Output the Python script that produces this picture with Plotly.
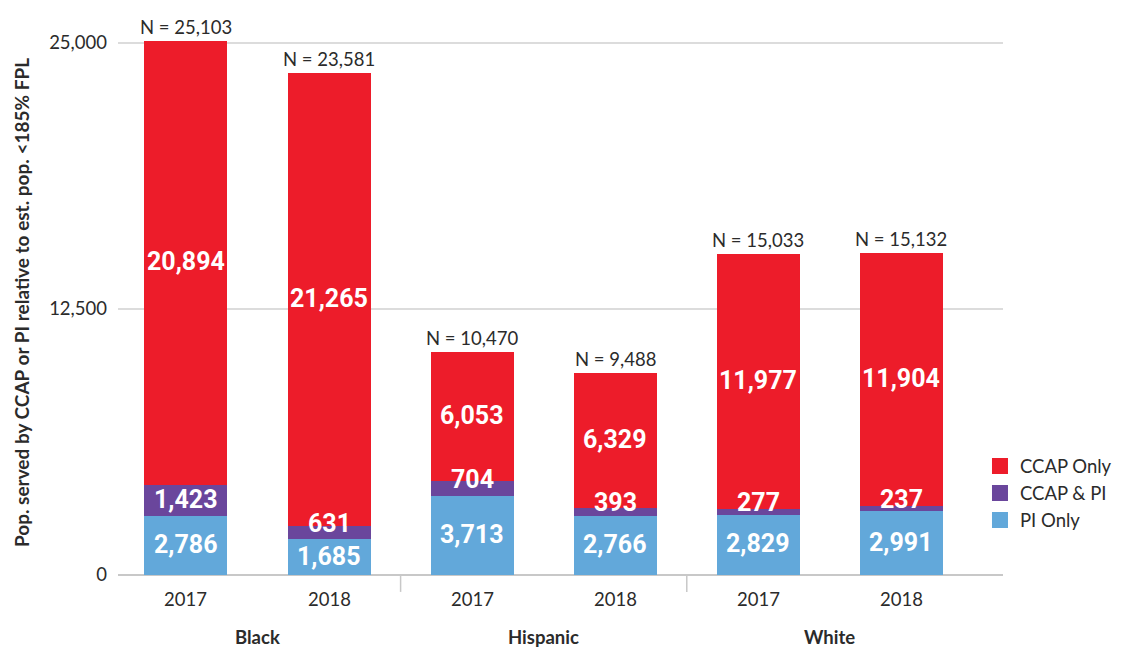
import plotly.graph_objects as go

groups = ["Black", "Hispanic", "White"]
years = ["2017", "2018", "2017", "2018", "2017", "2018"]
pi_only = [2786, 1685, 3713, 2766, 2829, 2991]
ccap_pi = [1423, 631, 704, 393, 277, 237]
ccap_only = [20894, 21265, 6053, 6329, 11977, 11904]
n_labels = ["N = 25,103", "N = 23,581", "N = 10,470", "N = 9,488", "N = 15,033", "N = 15,132"]
y_ticks = [0, 12500, 25000]
y_tick_text = ["0", "12,500", "25,000"]

x = list(range(len(years)))
totals = [a + b + c for a, b, c in zip(pi_only, ccap_pi, ccap_only)]

BODY = "Lato, 'Open Sans', sans-serif"
COND = "Roboto, sans-serif"
TXT = "#2b2b2b"
YMAX = 25600
PLOT_H = 545

fig = go.Figure()
series = [
    ("PI Only", pi_only, "#62A8DA"),
    ("CCAP & PI", ccap_pi, "#6A469C"),
    ("CCAP Only", ccap_only, "#ED1C2A"),
]
base = [0] * len(x)
for name, vals, col in series:
    fig.add_trace(go.Bar(
        x=x, y=vals, name=name, marker=dict(color=col, line=dict(width=0)),
        width=0.58, showlegend=False, hoverinfo="y+name",
    ))
    for xi, b, v in zip(x, base, vals):
        px_h = v / YMAX * PLOT_H
        fig.add_annotation(x=xi, y=b + v / 2, text=f"{v:,}", showarrow=False,
                           yshift=9 if px_h < 20 else 1,
                           font=dict(family=COND, size=25, color="white", weight="bold"))
    base = [b + v for b, v in zip(base, vals)]

# legend entries (top to bottom)
for name, vals, col in reversed(series):
    fig.add_trace(go.Scatter(x=[None], y=[None], mode="markers", name=name,
                             marker=dict(symbol="square", size=16, color=col)))

for xi, t, lab in zip(x, totals, n_labels):
    fig.add_annotation(x=xi, y=t, text=lab, showarrow=False, yanchor="bottom",
                       yshift=1, font=dict(family=BODY, size=18.5, color=TXT))

for xi, yr in zip(x, years):
    fig.add_annotation(x=xi, y=0, yref="y", text=yr, showarrow=False, yanchor="top",
                       yshift=-11, font=dict(family=BODY, size=18.5, color=TXT))
for gi, g in enumerate(groups):
    fig.add_annotation(x=gi * 2 + 0.5, y=0, text=g, showarrow=False, yanchor="top",
                       yshift=-49, font=dict(family=BODY, size=18.5, color=TXT, weight="bold"))
for sx in [1.5, 3.5]:
    fig.add_shape(type="line", x0=sx, x1=sx, xref="x", yref="paper", y0=0, y1=-0.031,
                  line=dict(color="#c8c8c8", width=1.5))

fig.update_layout(
    width=1125, height=647,
    margin=dict(l=118, r=122, t=30, b=72, autoexpand=False),
    barmode="stack", plot_bgcolor="white", paper_bgcolor="white",
    showlegend=True,
    legend=dict(traceorder="normal", x=0.974, xanchor="left", y=0.234, yanchor="top",
                font=dict(family=BODY, size=18.5, color=TXT), tracegroupgap=0,
                bgcolor="rgba(0,0,0,0)"),
    xaxis=dict(range=[-0.475, 5.71], showticklabels=False, showgrid=False, zeroline=False,
               showline=False, fixedrange=True),
    yaxis=dict(range=[0, YMAX], tickvals=y_ticks, ticktext=y_tick_text,
               showgrid=True, gridcolor="#dcdcdc", gridwidth=1.5,
               zeroline=True, zerolinecolor="#c8c8c8", zerolinewidth=1.5,
               tickfont=dict(family=BODY, size=18.5, color=TXT), ticks="", ticklabelstandoff=10,
               title=dict(text="Pop. served by CCAP or PI relative to est. pop. <185% FPL",
                          font=dict(family=BODY, size=19, color=TXT, weight="bold"), standoff=14)),
)

fig.write_html("out.html", config={"displayModeBar": False},
               post_script="document.body.style.margin='0';")
